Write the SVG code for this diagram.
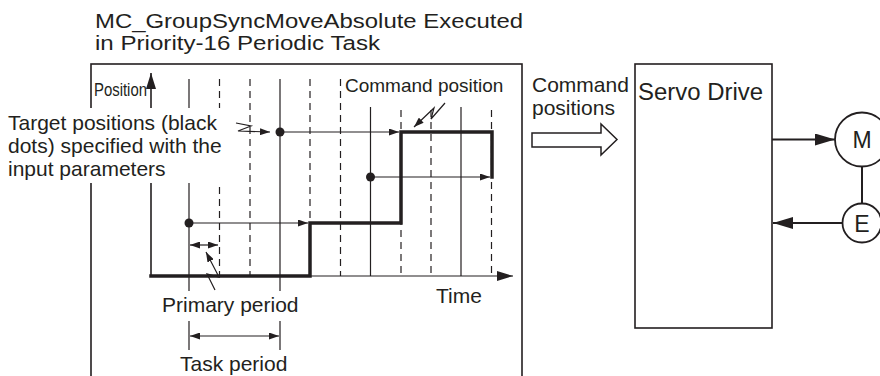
<svg xmlns="http://www.w3.org/2000/svg" width="880" height="376" viewBox="0 0 880 376">
<defs>
<style>
text{font-family:"Liberation Sans",Arial,Helvetica,sans-serif;fill:#231f20}
.t21{font-size:21px}
.box{fill:#fff;stroke:#231f20;stroke-width:1.6}
.thin{stroke:#231f20;stroke-width:1.2;fill:none}
.dash{stroke:#231f20;stroke-width:1.2;stroke-dasharray:7 5;fill:none}
.thick{stroke:#231f20;stroke-width:3.5;fill:none;stroke-linejoin:miter;stroke-linecap:square}
.ln{stroke:#231f20;stroke-width:2;fill:none}
.dot{fill:#231f20}
.circ{fill:#fff;stroke:#231f20;stroke-width:1.8}
</style>
<marker id="sm" markerUnits="userSpaceOnUse" markerWidth="10" markerHeight="7" refX="10" refY="3.5" orient="auto-start-reverse"><path d="M0,0L10,3.5L0,7z" fill="#231f20"/></marker>
<marker id="md" markerUnits="userSpaceOnUse" markerWidth="16" markerHeight="10" refX="16" refY="5" orient="auto-start-reverse"><path d="M0,0L16,5L0,10z" fill="#231f20"/></marker>
<marker id="lg" markerUnits="userSpaceOnUse" markerWidth="20" markerHeight="12" refX="20" refY="6" orient="auto-start-reverse"><path d="M0,0L20,6L0,12z" fill="#231f20"/></marker>
</defs>

<g id="title">
<text x="95" y="28" style="font-size:20.5px" textLength="428" lengthAdjust="spacingAndGlyphs">MC_GroupSyncMoveAbsolute Executed</text>
<text x="95" y="50" style="font-size:20.5px" textLength="285" lengthAdjust="spacingAndGlyphs">in Priority-16 Periodic Task</text>
</g>

<g id="task-box">
<rect class="box" x="91" y="64" width="431" height="330"/>
<g id="grid">
<path class="thin" d="M189,79V291M280,79V291M370.5,107V276M461,107V276M189,321V350M280,321V350"/>
<path class="dash" d="M219.5,79V276M250,79V276M310,79V276M340.5,79V276M401,110V276M431,110V276M491.5,110V276"/>
</g>
<g id="command-position">
<path class="thick" d="M151,276H310V223H401V132H492V177"/>
</g>
<g id="targets">
<circle class="dot" cx="189" cy="223" r="4.5"/>
<circle class="dot" cx="280" cy="132" r="4.5"/>
<circle class="dot" cx="370.5" cy="177" r="4.5"/>
</g>
</g>

<g id="connectors">
<line class="thin" x1="151" y1="276" x2="513" y2="276" marker-end="url(#md)"/>
<line class="thin" x1="151" y1="276" x2="151" y2="73" marker-end="url(#md)" style="stroke-width:1.6"/>
<line class="thin" x1="189" y1="223" x2="308" y2="223" marker-end="url(#sm)"/>
<line class="thin" x1="280" y1="132" x2="399" y2="132" marker-end="url(#sm)"/>
<line class="thin" x1="370.5" y1="177" x2="490" y2="177" marker-end="url(#sm)"/>
<polyline class="thin" points="236,123 251,126 238,131 270,132" marker-end="url(#sm)"/>
<polyline class="thin" points="445,103 431,119 434,108 414,127" marker-end="url(#sm)"/>
<line class="thin" x1="190" y1="245" x2="218" y2="245" marker-start="url(#sm)" marker-end="url(#sm)"/>
<polyline class="thin" points="215,290 207,274 219,277 206,252" marker-end="url(#sm)"/>
<line class="thin" x1="190" y1="336" x2="279" y2="336" marker-start="url(#sm)" marker-end="url(#sm)"/>
<polygon points="532,133 601,133 601,124 617,139.5 601,155 601,147 532,147" fill="#fff" stroke="#231f20" stroke-width="1.5"/>
<line class="ln" x1="772" y1="139.5" x2="835" y2="139.5" marker-end="url(#lg)"/>
<line class="ln" x1="842.5" y1="223" x2="773" y2="223" marker-end="url(#lg)"/>
<line class="ln" x1="862" y1="166.5" x2="862" y2="203.5"/>
</g>

<g id="target-label">
<rect x="0" y="108" width="226" height="75" fill="#fff"/>
<text class="t21" x="8" y="130">Target positions (black</text>
<text class="t21" x="8" y="153">dots) specified with the</text>
<text class="t21" x="8" y="176">input parameters</text>
</g>

<g id="labels">
<text x="94" y="96" style="font-size:19px" textLength="53" lengthAdjust="spacingAndGlyphs">Position</text>
<text x="345" y="92" style="font-size:19px">Command position</text>
<text class="t21" x="436" y="303">Time</text>
<text class="t21" x="162" y="312">Primary period</text>
<text class="t21" x="180" y="371">Task period</text>
<text class="t21" x="532" y="92">Command</text>
<text class="t21" x="532" y="115">positions</text>
</g>

<g id="servo-drive">
<rect class="box" x="635" y="64" width="137" height="264"/>
<text x="638" y="100" style="font-size:23.5px" textLength="125" lengthAdjust="spacingAndGlyphs">Servo Drive</text>
</g>

<g id="motor">
<circle class="circ" cx="862" cy="139.5" r="27"/>
<text x="862" y="148" text-anchor="middle" style="font-size:23px">M</text>
</g>

<g id="encoder">
<circle class="circ" cx="862" cy="223" r="19.5"/>
<text x="862" y="231.5" text-anchor="middle" style="font-size:23px">E</text>
</g>
</svg>
